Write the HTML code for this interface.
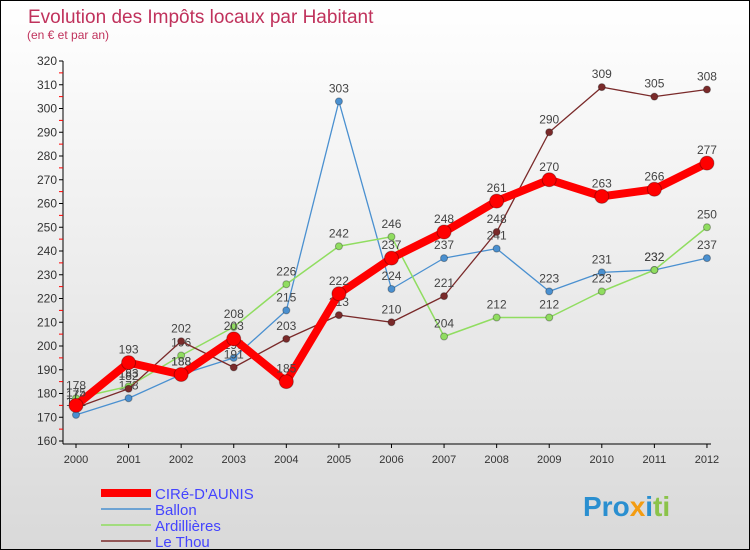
<!DOCTYPE html>
<html><head><meta charset="utf-8"><style>
body{margin:0}
#c{width:748px;height:548px;border:1px solid #000;position:relative;background:linear-gradient(#fff,#d9d9d9);font-family:"Liberation Sans",sans-serif;overflow:hidden}
</style></head><body>
<div id="c">
<svg id="s" width="748" height="548" xmlns="http://www.w3.org/2000/svg">
<text x="27" y="22" font-size="19" fill="#c0325c">Evolution des Impôts locaux par Habitant</text>
<text x="26" y="38" font-size="12" fill="#c0325c">(en € et par an)</text>
<g id="axes"></g><g id="series"></g>
<g>
<line x1="100" y1="492" x2="150" y2="492" stroke="#f00" stroke-width="8"/>
<text x="154" y="498" font-size="15" fill="#44f">CIRé-D'AUNIS</text>
<line x1="100" y1="508" x2="150" y2="508" stroke="#4a90d0" stroke-width="1.5"/>
<text x="154" y="514" font-size="15" fill="#44f">Ballon</text>
<line x1="100" y1="524" x2="150" y2="524" stroke="#90dd60" stroke-width="1.5"/>
<text x="154" y="530" font-size="15" fill="#44f">Ardillières</text>
<line x1="100" y1="540" x2="150" y2="540" stroke="#7a2a2a" stroke-width="1.5"/>
<text x="154" y="546" font-size="15" fill="#44f">Le Thou</text>
</g>
<text x="582" y="515" font-size="28" font-weight="bold"><tspan fill="#2a8fd0">Pro</tspan><tspan fill="#f39c12">x</tspan><tspan fill="#2a8fd0">i</tspan><tspan fill="#8bc34a">ti</tspan></text>
</svg></div>
<script>
const years=[2000,2001,2002,2003,2004,2005,2006,2007,2008,2009,2010,2011,2012];
const yTicks=[160,170,180,190,200,210,220,230,240,250,260,270,280,290,300,310,320];
const cire=[175,193,188,203,185,222,237,248,261,270,263,266,277];
const ballon=[171,178,188,195,215,303,224,237,241,223,231,232,237];
const ardil=[178,183,196,208,226,242,246,204,212,212,223,232,250];
const thou=[174,182,202,191,203,213,210,221,248,290,309,305,308];
const NS="http://www.w3.org/2000/svg";
const X=i=>75+i*52.58, Y=v=>60+(320-v)*2.375;
function mk(t,a,p){const e=document.createElementNS(NS,t);for(const k in a)e.setAttribute(k,a[k]);p.appendChild(e);return e;}
const ax=document.getElementById('axes');
mk('line',{x1:62,y1:60,x2:62,y2:443,stroke:'#000'},ax);
mk('line',{x1:62,y1:443,x2:710,y2:443,stroke:'#000'},ax);
yTicks.forEach(v=>{mk('line',{x1:58,y1:Y(v),x2:62,y2:Y(v),stroke:'#000'},ax);
 if(v<320)mk('line',{x1:58,y1:Y(v+5),x2:62,y2:Y(v+5),stroke:'#f00'},ax);
 const t=mk('text',{x:56,y:Y(v)+4,'font-size':12,fill:'#333','text-anchor':'end'},ax);t.textContent=v;
 });
years.forEach((y,i)=>{mk('line',{x1:X(i),y1:443,x2:X(i),y2:447,stroke:'#000'},ax);
 const t=mk('text',{x:X(i),y:462,'font-size':11,fill:'#333','text-anchor':'middle'},ax);t.textContent=y;
 });
const sg=document.getElementById('series');
function series(d,col,w,r,name){const g=mk('g',{},sg);
 
 mk('polyline',{points:d.map((v,i)=>X(i)+','+Y(v)).join(' '),fill:'none',stroke:col,'stroke-width':w,'stroke-linejoin':'round'},g);
 d.forEach((v,i)=>{const c=mk('circle',{cx:X(i),cy:Y(v),r:r,fill:col,stroke:'rgba(0,0,0,0.3)'},g);
  
  const t=mk('text',{x:X(i),y:Y(v)-9,'font-size':12,fill:'#444','text-anchor':'middle'},g);t.textContent=v;});}
series(ballon,'#4a90d0',1.3,3.5,'series-ballon');
series(ardil,'#90dd60',1.5,3.5,'series-ardillieres');
series(thou,'#7a2a2a',1.3,3.5,'series-le-thou');
series(cire,'#f00',8,7,'series-cire');
</script></body></html>
